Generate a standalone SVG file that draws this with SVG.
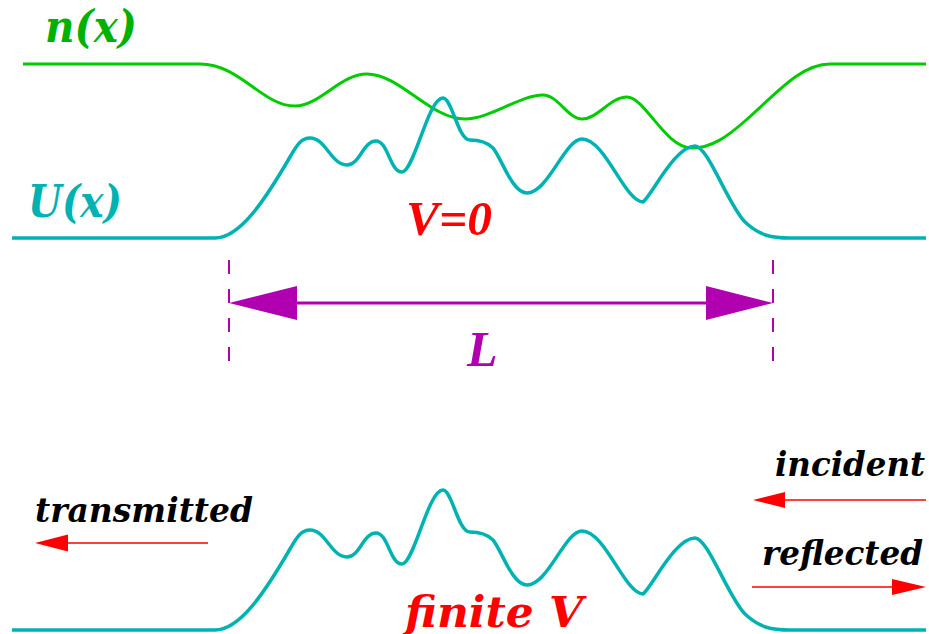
<svg xmlns="http://www.w3.org/2000/svg" xmlns:xlink="http://www.w3.org/1999/xlink" width="929" height="634" viewBox="0 0 929 634">
<style>
.cs{font-family:"DejaVu Serif","Liberation Serif",serif;font-weight:bold;font-style:italic;}
.tm{font-family:"Liberation Serif","Times New Roman",serif;font-weight:bold;font-style:italic;}
.curve{fill:none;stroke-linejoin:round;stroke-linecap:butt;}
.green{stroke:#00cc00;stroke-width:3;}
.cyan{stroke:#00b2b2;stroke-width:3.5;}
.mag{stroke:#b000b0;fill:none;}
.red{stroke:#ff0000;stroke-width:1.6;fill:none;}
</style>
<defs>
<path id="ucurve" d="M12,238 H215 C240,238 265,200 290,157 C298,143 302,138 310,138 C326,138 331,165 347,165 C360,165 363,141 376,141 C388,141 390,172 402,172 C414,172 428,98 443,98 C452,98 458,140 470,140 C480,140 487,142 493,148 C501,157 512,193 527,193 C548,193 565,139 582,139 C605,139 625,202 643,202 C652,195 675,146 695,146 C708,146 728,205 745,222 C760,236 772,238 790,238 H926"/>
</defs>
<rect width="929" height="634" fill="#ffffff"/>
<g id="n-curve">
<path class="curve green" d="M23,64 H200 C240,64 262,106 295,106 C320,106 340,74 367,74 C400,74 430,119 465,119 C490,119 520,95 543,95 C558,95 568,119 582,119 C598,119 610,97 627,97 C645,97 665,148 692,148 C712,148 728,136 745,121 C775,95 800,64 830,64 H926"/>
<text class="cs" x="45" y="42" font-size="44" fill="#00b200" textLength="92" lengthAdjust="spacingAndGlyphs">n(x)</text>
</g>
<g id="u-curve-top">
<use xlink:href="#ucurve" href="#ucurve" class="curve cyan"/>
<text class="cs" x="28" y="217" font-size="45" fill="#00b2b2" textLength="94" lengthAdjust="spacingAndGlyphs">U(x)</text>
</g>
<g id="label-v0">
<text class="tm" x="406" y="235" font-size="48" fill="#ff0000" textLength="86" lengthAdjust="spacingAndGlyphs">V=0</text>
</g>
<g id="length-marker">
<line class="mag" x1="229" y1="260" x2="229" y2="362" stroke-width="2" stroke-dasharray="14 15"/>
<line class="mag" x1="773" y1="260" x2="773" y2="362" stroke-width="2" stroke-dasharray="14 15"/>
<text class="tm" x="467" y="366" font-size="50" fill="#b000b0">L</text>
</g>
<g id="u-curve-bottom">
<use xlink:href="#ucurve" href="#ucurve" class="curve cyan" transform="translate(0,392)"/>
</g>
<g id="label-finite">
<text class="cs" x="405" y="627" font-size="43" fill="#ff0000" textLength="178" lengthAdjust="spacingAndGlyphs">finite V</text>
</g>
<g id="label-transmitted">
<text class="cs" x="35" y="522" font-size="33" fill="#000000" textLength="218" lengthAdjust="spacingAndGlyphs">transmitted</text>
</g>
<g id="label-incident">
<text class="cs" x="775" y="476" font-size="33" fill="#000000" textLength="150" lengthAdjust="spacingAndGlyphs">incident</text>
</g>
<g id="label-reflected">
<text class="cs" x="762" y="565" font-size="33" fill="#000000" textLength="161" lengthAdjust="spacingAndGlyphs">reflected</text>
</g>
<g id="connectors">
<line class="mag" x1="290" y1="303" x2="712" y2="303" stroke-width="3"/>
<polygon points="229,303 297,286 297,320" fill="#b000b0"/>
<polygon points="773,303 706,286 706,320" fill="#b000b0"/>
<line class="red" x1="208" y1="543" x2="66" y2="543"/>
<polygon points="35,543 68,534.5 68,551.5" fill="#ff0000"/>
<line class="red" x1="926" y1="500" x2="783" y2="500"/>
<polygon points="753,500 785,492 785,508" fill="#ff0000"/>
<line class="red" x1="752" y1="587" x2="894" y2="587"/>
<polygon points="926,587 892,579 892,595" fill="#ff0000"/>
</g>
</svg>
